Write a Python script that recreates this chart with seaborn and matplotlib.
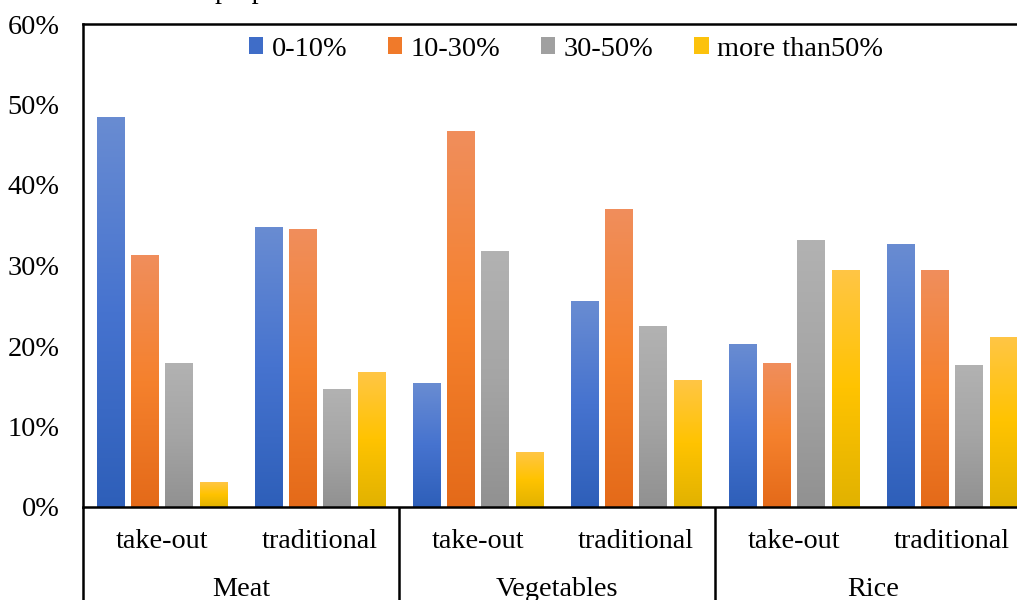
import numpy as np
import pandas as pd
import matplotlib
matplotlib.use("Agg")
import matplotlib.pyplot as plt
import matplotlib.colors as mcolors
from matplotlib.patches import Patch
import seaborn as sns

# ---- data ----
foods = ["Meat", "Vegetables", "Rice"]
kinds = ["take-out", "traditional"]
series = ["0-10%", "10-30%", "30-50%", "more than50%"]

share_0_10 = [48.4, 34.7, 15.4, 25.5, 20.2, 32.6]
share_10_30 = [31.3, 34.5, 46.6, 36.9, 17.8, 29.4]
share_30_50 = [17.8, 14.6, 31.8, 22.4, 33.1, 17.6]
share_50_plus = [3.0, 16.7, 6.8, 15.7, 29.4, 21.0]

# gradient stops per series (top, middle, bottom)
gradients = {
    "0-10%": ["#698cd2", "#4673cf", "#2e5fb9"],
    "10-30%": ["#f08e5c", "#f5812d", "#e46a19"],
    "30-50%": ["#b2b2b2", "#a5a5a5", "#919191"],
    "more than50%": ["#ffc645", "#ffc300", "#e1b200"],
}
legend_colors = ["#3f6dc8", "#f07a2a", "#a0a0a0", "#fcc20c"]

slots = [f"{f}|{k}" for f in foods for k in kinds]
values = [share_0_10, share_10_30, share_30_50, share_50_plus]
df = pd.DataFrame(
    [(slot, s, v[i] / 100.0) for s, v in zip(series, values) for i, slot in enumerate(slots)],
    columns=["slot", "range", "share"],
)

sns.set_theme(style="white")
plt.rcParams["font.family"] = ["Liberation Serif", "DejaVu Serif"]
plt.rcParams["text.color"] = "black"
FS = 20.3

fig = plt.figure(figsize=(10.17, 6.0), dpi=100)
W, H = 1017, 600
ax = fig.add_axes([83 / W, 93 / H, 948 / W, 483 / H])

sns.barplot(
    data=df, x="slot", y="share", hue="range", order=slots, hue_order=series,
    width=0.87, gap=0.19, palette=legend_colors, legend=False, ax=ax,
    errorbar=None, saturation=1,
)

# paint each bar with its own vertical gradient
n_grad = 256
for patch, (s, slot) in zip(ax.patches, [(s, sl) for s in series for sl in slots]):
    x0, y0 = patch.get_x(), patch.get_y()
    w, h = patch.get_width(), patch.get_height()
    cmap = mcolors.LinearSegmentedColormap.from_list(s, gradients[s][::-1])
    grad = np.linspace(0, 1, n_grad).reshape(-1, 1)
    ax.imshow(grad, cmap=cmap, extent=[x0, x0 + w, y0, y0 + h], origin="lower",
              aspect="auto", zorder=patch.get_zorder() + 0.1, interpolation="bilinear")
    patch.set_facecolor("none")
    patch.set_edgecolor("none")

ax.set_xlim(-0.5, len(slots) - 0.5)
ax.set_ylim(0, 0.6)
ax.set_yticks(np.arange(0, 0.61, 0.1))
ax.set_yticklabels([f"{int(round(t * 100))}%" for t in np.arange(0, 0.61, 0.1)], fontsize=FS)
ax.tick_params(axis="y", length=0, pad=17, colors="black")
ax.set_xticks(range(len(slots)))
ax.set_xticklabels([s.split("|")[1] for s in slots], fontsize=FS)
ax.tick_params(axis="x", length=0, pad=16, colors="black")
ax.set_xlabel("")
ax.set_ylabel("")

for side in ["left", "top", "bottom", "right"]:
    ax.spines[side].set_visible(True)
    ax.spines[side].set_color("black")
    ax.spines[side].set_linewidth(1.8)

# category group labels and separators below the axis
xt = ax.get_xaxis_transform()
for gi, food in enumerate(foods):
    ax.text(gi * 2 + 0.5, -83 / 483, food, transform=xt, ha="center", va="center",
            fontsize=FS, color="black")
for xb in [-0.5, 1.5, 3.5, 5.5]:
    ax.plot([xb, xb], [0, -0.25], transform=xt, color="black", lw=1.8,
            clip_on=False, solid_capstyle="butt")

# legend
handles = [Patch(facecolor=c, edgecolor="none") for c in legend_colors]
fig.legend(handles, series, loc="center", bbox_to_anchor=(566 / W, 1 - 49 / H),
           ncol=4, frameon=False, fontsize=FS, handlelength=0.5, handleheight=0.5,
           handletextpad=0.3, columnspacing=1.45, labelcolor="black")

# chart title, running above the top edge
fig.text(215 / W, 1 + 2 / H, "proportion", ha="left", va="baseline", fontsize=FS,
         color="black")

fig.savefig("out.png", dpi=100)
